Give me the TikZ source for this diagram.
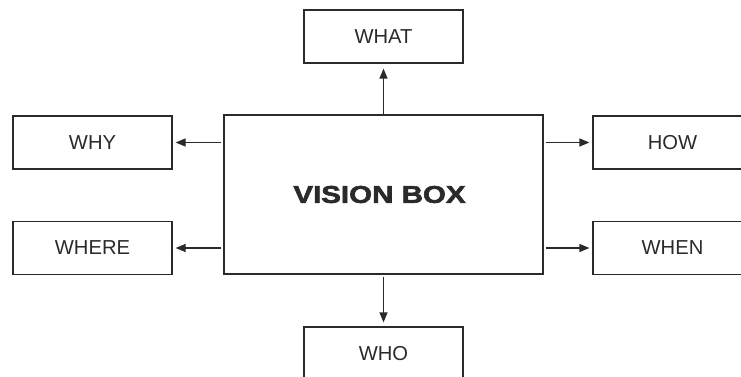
\documentclass[tikz,border=0pt]{standalone}
\usepackage{fontspec}
\setmainfont{Liberation Sans}
\newfontfamily\heavyfont[FakeBold=2.4,FakeStretch=1.22]{Liberation Sans Bold}
\usetikzlibrary{arrows.meta}
\definecolor{ink}{HTML}{2A2A2A}
\begin{document}
\begin{tikzpicture}[x=1pt,y=-1pt,
  box/.style={draw=ink,line width=1.2pt,minimum width=159pt,minimum height=53pt,inner sep=0pt,
    text=ink,font=\fontsize{20.2}{24}\selectfont},
  bigbox/.style={draw=ink,line width=1.2pt,minimum width=319pt,minimum height=159pt,inner sep=0pt},
  bigtext/.style={text=ink,inner sep=0pt,font=\heavyfont\fontsize{24.2}{28}\selectfont},
  arr/.style={draw=ink,line width=1.2pt,-{Triangle[length=10pt,width=8pt]},shorten <=2pt,shorten >=3pt}]
\useasboundingbox (0,0) rectangle (741,377);
\clip (0,0) rectangle (741,377);
\node[bigbox] (vision) at (383.5,194.5) {};
\node[bigtext] (visiontext) at (379.5,194.5) {VISION BOX};
\node[box] (what) at (383.5,36.5) {WHAT};
\node[box] (why) at (92.5,142.5) {WHY};
\node[box] (where) at (92.5,248) {WHERE};
\node[box] (how) at (672.5,142.5) {HOW};
\node[box] (when) at (672.5,248) {WHEN};
\node[box] (who) at (383.5,353.5) {WHO};
\draw[arr,shorten >=5pt,shorten <=0pt] (vision.north) -- (what.south);
\draw[arr] (vision.west |- why.east) -- (why.east);
\draw[arr] (vision.west |- where.east) -- (where.east);
\draw[arr] (vision.east |- how.west) -- (how.west);
\draw[arr] (vision.east |- when.west) -- (when.west);
\draw[arr,shorten >=4pt] (vision.south) -- (who.north);
\end{tikzpicture}
\end{document}
